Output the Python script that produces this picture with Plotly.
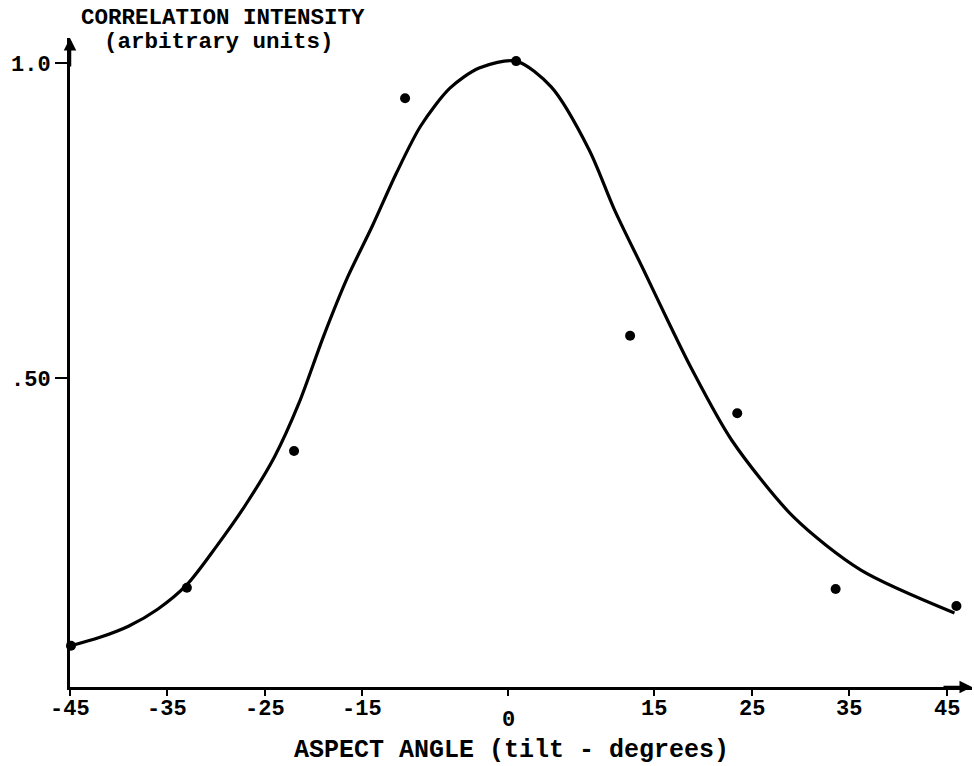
import plotly.graph_objects as go

# ---- data ----
point_angle = [-44.9, -33.0, -22.0, -10.6, 0.8, 12.5, 23.5, 33.6, 46.0]
point_intensity = [0.075, 0.167, 0.384, 0.944, 1.003, 0.567, 0.444, 0.165, 0.138]

curve_angle = [-44.9, -42.0, -39.0, -36.0, -33.0, -30.0, -27.0, -24.0, -21.5, -19.0,
               -16.5, -14.0, -11.5, -9.0, -6.0, -3.0, 0.8, 4.4, 8.3, 10.9,
               13.9, 16.4, 18.8, 22.9, 29.3, 36.2, 45.8]
curve_intensity = [0.075, 0.088, 0.106, 0.133, 0.172, 0.232, 0.298, 0.375, 0.460, 0.565,
                   0.660, 0.740, 0.825, 0.900, 0.960, 0.992, 1.003, 0.962, 0.862, 0.767,
                   0.671, 0.590, 0.515, 0.402, 0.279, 0.195, 0.127]

x_tick_vals = [-45, -35, -25, -15, 0, 15, 25, 35, 45]
x_tick_text = ["-45", "-35", "-25", "-15", "0", "15", "25", "35", "45"]
y_tick_vals = [0.5, 1.0]
y_tick_text = [".50", "1.0"]

FONT = "Liberation Mono"
INK = "#000000"

fig = go.Figure()
fig.add_trace(go.Scatter(x=curve_angle, y=curve_intensity, mode="lines",
                         line=dict(color=INK, width=3.2, shape="spline", smoothing=0.8),
                         hoverinfo="skip", showlegend=False))
fig.add_trace(go.Scatter(x=point_angle, y=point_intensity, mode="markers",
                         marker=dict(color=INK, size=10), cliponaxis=False,
                         showlegend=False))

annotations = []
for v, t in zip(x_tick_vals, x_tick_text):
    annotations.append(dict(x=v, y=0, xref="x", yref="paper", text=t, showarrow=False,
                            xanchor="center", yanchor="middle",
                            yshift=-(33 if v == 0 else 22),
                            font=dict(family=FONT, size=22, color=INK, weight="bold")))
# axis titles
annotations.append(dict(x=0.49, y=0, xref="paper", yref="paper", yshift=-63,
                        text="ASPECT ANGLE (tilt - degrees)", showarrow=False,
                        xanchor="center", yanchor="middle",
                        font=dict(family=FONT, size=25, color=INK, weight="bold")))
annotations.append(dict(x=0.17, y=1, xref="paper", yref="paper", yshift=20,
                        text="CORRELATION INTENSITY", showarrow=False,
                        xanchor="center", yanchor="middle",
                        font=dict(family=FONT, size=22.5, color=INK, weight="bold")))
annotations.append(dict(x=0.165, y=1, xref="paper", yref="paper", yshift=-4,
                        text="(arbitrary units)", showarrow=False,
                        xanchor="center", yanchor="middle",
                        font=dict(family=FONT, size=22.5, color=INK, weight="bold")))
# arrowheads on axes
annotations.append(dict(x=1, y=0, xref="paper", yref="paper", ax=-30, ay=0,
                        axref="pixel", ayref="pixel", text="", showarrow=True,
                        arrowhead=2, arrowsize=1, arrowwidth=2.5, arrowcolor=INK))
annotations.append(dict(x=0, y=1, xref="paper", yref="paper", ax=0, ay=30,
                        axref="pixel", ayref="pixel", text="", showarrow=True,
                        arrowhead=2, arrowsize=1, arrowwidth=2.5, arrowcolor=INK))

fig.update_layout(
    width=974, height=766,
    margin=dict(l=70, r=2, t=38, b=79),
    paper_bgcolor="white", plot_bgcolor="white",
    showlegend=False,
    annotations=annotations,
    xaxis=dict(range=[-45, 47.6], showgrid=False, zeroline=False,
               showline=True, linecolor=INK, linewidth=3,
               tickvals=x_tick_vals, ticktext=[""] * len(x_tick_vals),
               ticks="outside", ticklen=6, tickwidth=2, tickcolor=INK),
    yaxis=dict(range=[0.0095, 1.0397], showgrid=False, zeroline=False,
               showline=True, linecolor=INK, linewidth=3,
               tickvals=y_tick_vals, ticktext=y_tick_text,
               ticks="outside", ticklen=12, tickwidth=2, tickcolor=INK,
               tickfont=dict(family=FONT, size=22, color=INK, weight="bold")),
)

fig.write_html("out.html")
